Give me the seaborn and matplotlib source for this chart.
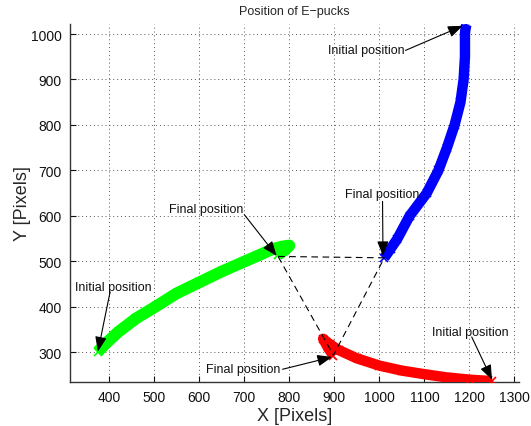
import matplotlib
matplotlib.use("Agg")
import matplotlib.pyplot as plt
import seaborn as sns
import pandas as pd

# ---- data ----
green_x = [375, 395, 420, 460, 505, 550, 600, 650, 703, 740, 762, 785, 800, 790, 775]
green_y = [302, 322, 345, 375, 402, 430, 454, 478, 501, 517, 527, 533, 535, 525, 515]

blue_x = [1011, 1025, 1040, 1067, 1105, 1131, 1150, 1167, 1180, 1187, 1190, 1190, 1191, 1193]
blue_y = [508, 528, 550, 600, 650, 700, 750, 800, 850, 900, 950, 1000, 1010, 1020]

red_x = [1250, 1202, 1150, 1101, 1050, 1000, 950, 910, 890, 875, 885, 898]
red_y = [237, 240, 245, 252, 260, 271, 287, 305, 318, 330, 312, 292]

tri_x = [775, 1011, 898, 775]
tri_y = [511, 508, 294, 511]

# annotations: (text, text_x, text_y, arrow_start_x, arrow_start_y, tip_x, tip_y)
notes = [
    ("Initial position", 970, 964, 1058, 964, 1185, 1018),
    ("Final position", 1007, 648, 1007, 632, 1008, 512),
    ("Final position", 616, 615, 700, 603, 772, 512),
    ("Initial position", 409, 443, 402, 433, 375, 302),
    ("Final position", 697, 263, 785, 263, 895, 290),
    ("Initial position", 1202, 346, 1205, 334, 1250, 240),
]

xticks = [400, 500, 600, 700, 800, 900, 1000, 1100, 1200, 1300]
yticks = [300, 400, 500, 600, 700, 800, 900, 1000]

sns.set_style("white")
plt.rcParams["font.family"] = ["Liberation Sans", "DejaVu Sans"]

fig = plt.figure(figsize=(5.31, 4.27), dpi=100)
ax = fig.add_axes([70 / 531, (427 - 383) / 427, (519 - 70) / 531, (383 - 25) / 427])

for xs, ys, col, lw in [(green_x, green_y, (0, 1, 0), 8.5),
                        (blue_x, blue_y, (0, 0, 1), 7.5),
                        (red_x, red_y, (1, 0, 0), 7.5)]:
    df = pd.DataFrame({"x": xs, "y": ys})
    sns.lineplot(data=df, x="x", y="y", sort=False, estimator=None, color=col,
                 linewidth=lw, ax=ax, marker="x", markersize=6, markeredgewidth=1.2,
                 markeredgecolor=col, solid_capstyle="butt", zorder=3)

dft = pd.DataFrame({"x": tri_x, "y": tri_y})
sns.lineplot(data=dft, x="x", y="y", sort=False, estimator=None, color="black",
             linewidth=0.8, linestyle=(0, (6, 4)), ax=ax, zorder=4)

for txt, tx, ty, sx, sy, hx, hy in notes:
    ax.text(tx, ty, txt, ha="center", va="center", fontsize=9, color="#111111", zorder=6)
    ax.annotate("", xy=(hx, hy), xytext=(sx, sy),
                arrowprops=dict(arrowstyle="-|>,head_length=0.9,head_width=0.35",
                                color="black", lw=0.8, shrinkA=0, shrinkB=0),
                zorder=6)

ax.set_xlim(313, 1310)
ax.set_ylim(235, 1022)
ax.set_xticks(xticks)
ax.set_yticks(yticks)
ax.grid(True, linestyle=(0, (1, 3)), color="#555555", linewidth=0.7)
ax.set_axisbelow(True)
for s in ["top", "right"]:
    ax.spines[s].set_visible(False)
for s in ["left", "bottom"]:
    ax.spines[s].set_color("#333333")
    ax.spines[s].set_linewidth(1.0)
ax.tick_params(direction="in", length=4, width=0.8, labelsize=10, colors="#111111",
               left=True, bottom=True, pad=6)
ax.set_xlabel("X [Pixels]", fontsize=13, labelpad=2)
ax.set_ylabel("Y [Pixels]", fontsize=13, labelpad=0)
ax.set_title("Position of E\u2212pucks", fontsize=9, pad=7)

fig.savefig("out.png", dpi=100)
